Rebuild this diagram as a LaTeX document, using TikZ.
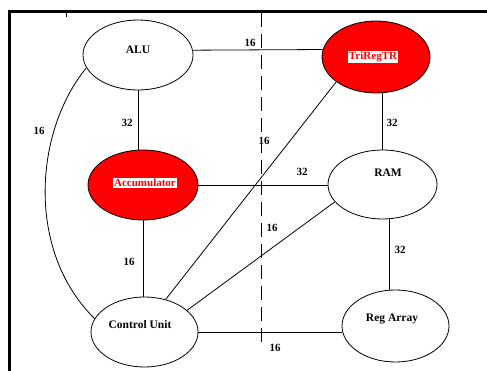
\documentclass[tikz,border=0pt]{standalone}
\usepackage{fontspec}
\setmainfont{Liberation Serif}
\usetikzlibrary{shapes.geometric}
\begin{document}
\begin{tikzpicture}[x=1pt,y=-1pt,
  unit/.style={ellipse, draw=black, line width=0.8pt, inner sep=0pt},
  hot/.style={unit, fill=red},
  txt/.style={font=\fontsize{11.5}{13}\selectfont\bfseries, inner sep=0pt},
  tag/.style={fill=white, text=red, inner sep=1.2pt, font=\fontsize{11}{13}\selectfont\bfseries},
  lbl/.style={font=\fontsize{11}{13}\selectfont\bfseries, inner sep=0pt},
  link/.style={line width=0.8pt},
  divider/.style={line width=1pt, dash pattern=on 14pt off 7pt}]
\useasboundingbox (0,0) rectangle (487,371);
\fill[white] (0,0) rectangle (487,371);
\draw[line width=3pt] (9,371) -- (9,11.5) -- (487,11.5);
\coordinate (tk1) at (66,13);
\coordinate (tk2) at (66,17);
\draw[line width=0.8pt] (tk1) -- (tk2);

% units
\node[unit, minimum width=110pt, minimum height=70pt] (alu) at (138,55) {};
\node[txt] (alut) at ([yshift=5pt]alu.center) {ALU};
\node[hot, minimum width=108pt, minimum height=72pt] (trireg) at (376,57) {};
\node[tag] (triregt) at (373,57) {TriRegTR};
\node[hot, minimum width=110pt, minimum height=70pt] (acc) at (143,185) {};
\node[tag] (acct) at (145,183) {Accumulator};
\node[unit, minimum width=109pt, minimum height=69pt] (ram) at (382.5,184.5) {};
\node[txt] (ramt) at (388,173) {RAM};
\node[unit, minimum width=107pt, minimum height=70pt] (cu) at (144.5,332) {};
\node[txt] (cut) at (140,325) {Control Unit};
\node[unit, minimum width=107pt, minimum height=72pt] (reg) at (395.5,326) {};
\node[txt] (regt) at (392,319) {Reg Array};

% divider
\coordinate (dtop) at (261,13);
\coordinate (dbot) at (261,342);
\draw[divider] (dtop) -- (dbot);

% connectors
\draw[link] (alu.5) -- (trireg.172);
\draw[link] (alu.south) -- (alu.south |- acc.north);
\draw[link] (ram.north) -- (ram.north |- trireg.south);
\draw[link] (acc.east) -- (acc.east -| ram.west);
\draw[link] (acc.south) -- (acc.south |- cu.north);
\draw[link] (trireg.212) -- (cu.57);
\draw[link] (ram.200) -- (cu.27);
\draw[link] (ram.-78) -- (ram.-78 |- reg.north);
\draw[link] (cu.east) -- (cu.east -| reg.west);
\draw[link] (alu.194) .. controls (35,130) and (25,250) .. (cu.165);

% labels
\node[lbl] (l1) at (250,43) {16};
\node[lbl] (l2) at (127,123) {32};
\node[lbl] (l3) at (392,123) {32};
\node[lbl] (l4) at (39,131) {16};
\node[lbl] (l5) at (264,141) {16};
\node[lbl] (l6) at (302,172) {32};
\node[lbl] (l7) at (272,228) {16};
\node[lbl] (l8) at (400,250) {32};
\node[lbl] (l9) at (129,262) {16};
\node[lbl] (l10) at (275,348) {16};
\end{tikzpicture}
\end{document}
